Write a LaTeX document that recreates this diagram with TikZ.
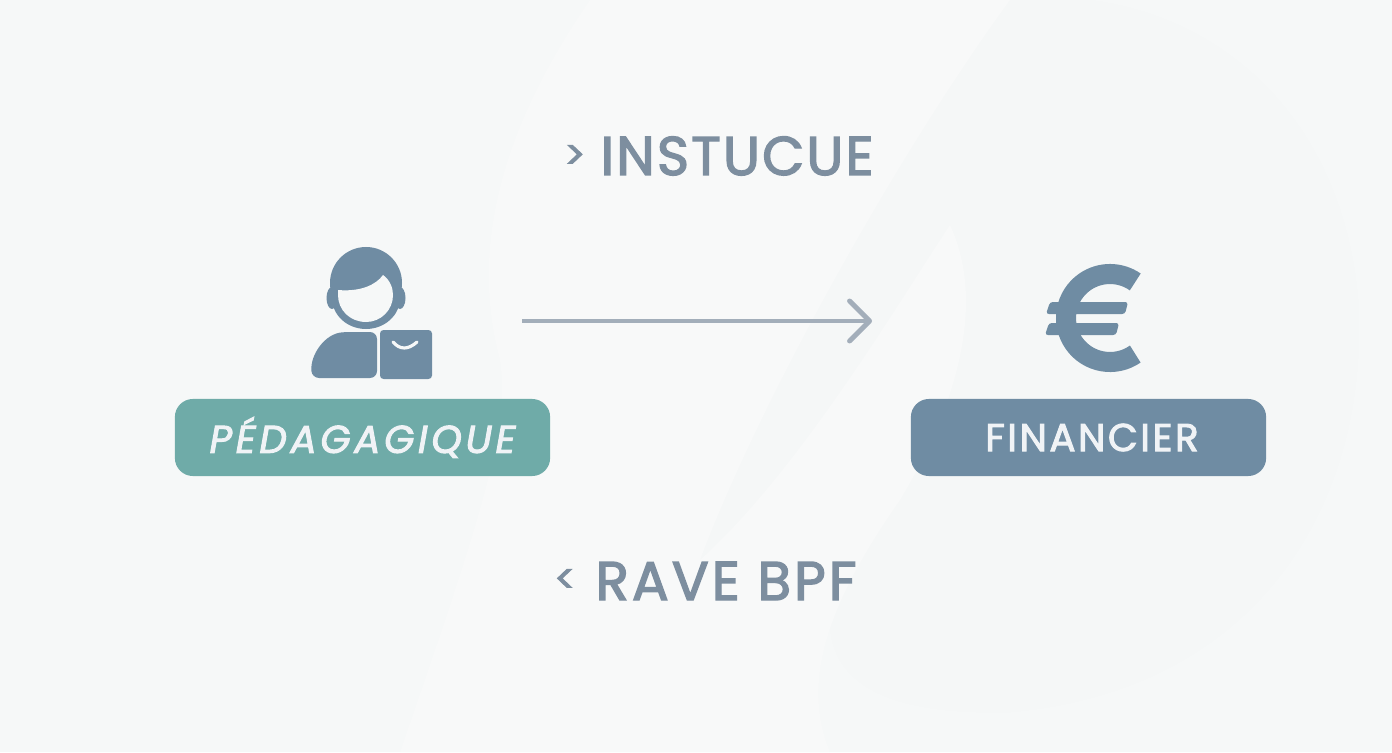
\documentclass[tikz,border=0pt]{standalone}
\usepackage{fontspec}
\setmainfont{Poppins}
\usetikzlibrary{arrows.meta}
\usetikzlibrary{calc}

\definecolor{backcol}{HTML}{F6F8F8}
\definecolor{swooshcol}{HTML}{F8F9F9}
\definecolor{blobcol}{HTML}{F5F7F7}
\definecolor{tealcol}{HTML}{6FABA8}
\definecolor{slatecol}{HTML}{6F8CA3}
\definecolor{labelcol}{HTML}{7D8E9F}
\definecolor{arrowcol}{HTML}{A3AEBA}
\definecolor{pilltext}{HTML}{F0F3F6}

\newcommand{\spaced}[1]{\addfontfeature{LetterSpace=#1,FakeBold=2.6}}

\tikzset{
	pill/.style={rounded corners=0.18cm, minimum width=#1, minimum height=0.77cm, inner sep=0pt, text=pilltext},
	steplabel/.style={text=labelcol, font=\fontsize{15.5}{18}\selectfont, inner sep=0pt},
	chevron/.style={text=labelcol, font=\fontsize{11}{13}\selectfont, inner sep=0pt}
}

\begin{document}
\begin{tikzpicture}[x=0.01cm,y=-0.01cm]
		% Fix the size of the page
		\useasboundingbox (0,0) rectangle (1392,752);
		\fill[backcol] (0,0) rectangle (1392,752);

		% Draw the background shapes
		\fill[blobcol] (1010,0) .. controls (1180,-20) and (1340,90) .. (1358,300)
			.. controls (1370,500) and (1260,690) .. (1010,712)
			.. controls (900,715) and (830,690) .. (830,620)
			.. controls (840,480) and (980,360) .. (950,225)
			.. controls (900,300) and (800,470) .. (700,560)
			.. controls (760,400) and (900,150) .. (1010,0);
		\fill[swooshcol] (590,0) .. controls (500,130) and (470,250) .. (500,360)
			.. controls (510,430) and (480,520) .. (400,752)
			-- (830,752) .. controls (800,680) and (830,600) .. (900,500)
			.. controls (960,400) and (985,300) .. (950,225)
			.. controls (900,300) and (800,470) .. (700,560)
			.. controls (760,400) and (900,150) .. (1010,0) -- cycle;

		% Define the coordinates of the points
		\coordinate (start) at (522,321);
		\coordinate (end) at (872,321);
		\coordinate (head) at (366,283);
		\coordinate (euro) at (1110,318);

		% Draw the boxes and the labels
		\node[pill=3.75cm, fill=tealcol, font=\fontsize{11}{13}\itshape\selectfont] (pedago) at (362.5,437.5) {\spaced{9.8}PÉDAGAGIQUE};
		\node[pill=3.55cm, fill=slatecol, font=\fontsize{11}{13}\selectfont] (finance) at (1088.5,437.5) {\hspace*{2pt}\spaced{6.8}FINANCIER};
		\node[steplabel, anchor=base west] (instruct) at (600,175) {\spaced{4.2}INSTUCUE};
		\node[steplabel, anchor=base west] (rave) at (595,600) {\spaced{5.8}RAVE BPF};
		\node[chevron] (gt) at (575,157) {\addfontfeature{FakeBold=2.6}>};
		\node[chevron] (lt) at (565,581) {\addfontfeature{FakeBold=2.6}<};

		% Draw the arrow
		\draw[arrowcol, line width=1.4pt, -{Straight Barb[length=0.2cm,width=0.4cm,round]}] (start) -- (end);

		% Draw the person
		\fill[slatecol] (332,298) ellipse[x radius=5.5, y radius=11];
		\fill[slatecol] (400,298) ellipse[x radius=5.5, y radius=11];
		\fill[slatecol] (head) circle[radius=36];
		\fill[slatecol] (366,298) ellipse[x radius=34, y radius=31];
		\fill[backcol] (338,290) .. controls (360,292) and (376,285) .. (383,275)
			.. controls (390,280) and (393,288) .. (393,295)
			.. controls (393,310) and (381,322) .. (366,322)
			.. controls (350,322) and (338,310) .. (338,295) -- cycle;
		\fill[slatecol, rounded corners=2pt] (377,332) -- (377,378) -- (312,378)
			.. controls (310,355) and (325,333) .. (350,332) -- cycle;
		\fill[slatecol, rounded corners=1pt] (380,330) rectangle (432,379);
		\draw[backcol, line width=0.9pt, line cap=round] (393,342) .. controls (400,350) and (408,350) .. (417,342);

		% Draw the euro sign
		\draw[slatecol, line width=5.7pt] (euro) ++(55:44) arc[start angle=55, end angle=305, radius=44];
		\fill[slatecol, rounded corners=0.8pt] (1050,302) -- (1128,302) -- (1125,314) -- (1046,314) -- cycle;
		\fill[slatecol, rounded corners=0.8pt] (1049,323) -- (1119,323) -- (1116,335) -- (1045,335) -- cycle;
\end{tikzpicture}
\end{document}
